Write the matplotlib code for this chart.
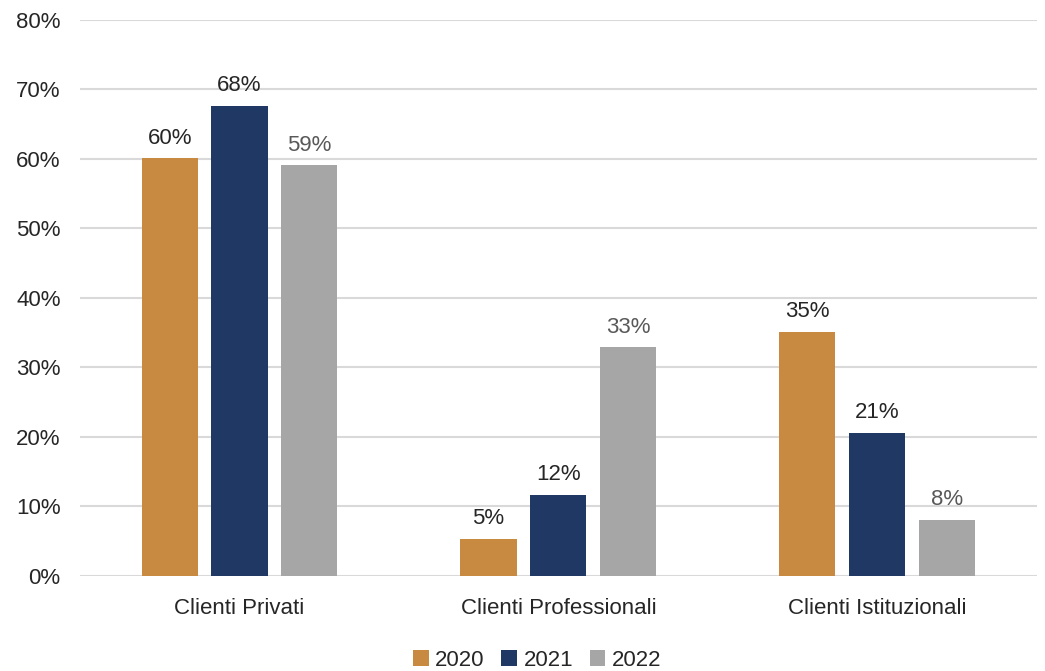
import numpy as np
import matplotlib.pyplot as plt
from matplotlib.ticker import FuncFormatter

# data
categories = ['Clienti Privati', 'Clienti Professionali', 'Clienti Istituzionali']
years = ['2020', '2021', '2022']
v2020 = [60.1, 5.3, 35.1]
v2021 = [67.6, 11.7, 20.6]
v2022 = [59.1, 32.9, 8.1]
series = [v2020, v2021, v2022]

colors = ['#C88A40', '#203864', '#A6A6A6']
label_colors = ['#262626', '#262626', '#595959']

plt.rcParams['font.family'] = ['Liberation Sans', 'DejaVu Sans']

fig = plt.figure(figsize=(10.45, 6.71), dpi=100)
ax = fig.add_axes([0.0766, 0.1416, 0.9154, 0.8286])

x = np.arange(len(categories))
width = 0.176
step = 0.219
for i, (vals, yr) in enumerate(zip(series, years)):
    pos = x + (i - 1) * step
    bars = ax.bar(pos, vals, width, color=colors[i], label=yr, zorder=3)
    for b, v in zip(bars, vals):
        ax.text(b.get_x() + b.get_width() / 2, v + 1.4, f'{round(v):.0f}%',
                ha='center', va='bottom', fontsize=16, color=label_colors[i])

ax.set_xlim(-0.5, 2.5)
ax.set_ylim(0, 80)
ax.set_yticks(range(0, 81, 10))
ax.yaxis.set_major_formatter(FuncFormatter(lambda v, p: f'{v:.0f}%'))
ax.set_xticks(x)
ax.set_xticklabels(categories)
ax.tick_params(axis='both', length=0, labelsize=16, colors='#262626')
ax.tick_params(axis='x', pad=16)
ax.tick_params(axis='y', pad=14)
ax.grid(axis='y', color='#D9D9D9', linewidth=1.5, zorder=0)
for s in ax.spines.values():
    s.set_visible(False)

ax.legend(loc='upper center', bbox_to_anchor=(0.478, -0.097), ncol=3, frameon=False,
          fontsize=16, handlelength=0.7, handleheight=0.7, handletextpad=0.3,
          columnspacing=0.75, labelcolor='#262626')

fig.savefig('out.png', dpi=100)
